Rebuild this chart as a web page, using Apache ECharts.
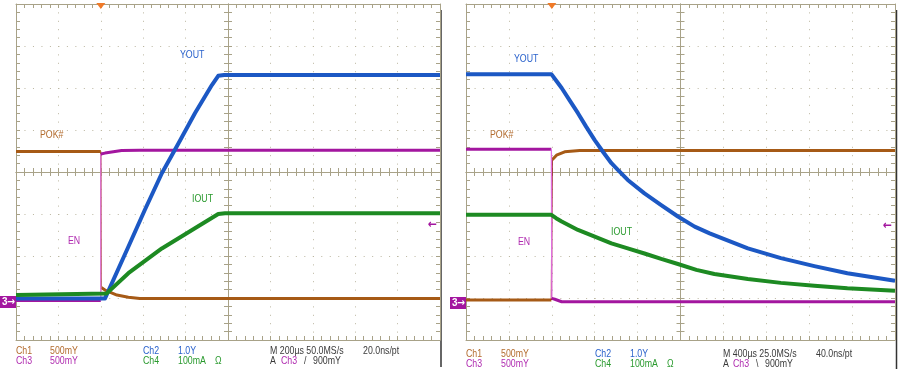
<!DOCTYPE html>
<html>
<head>
<meta charset="utf-8">
<script src="https://cdn.jsdelivr.net/npm/echarts@6.0.0/dist/echarts.min.js"></script>
<style>
  html, body { margin: 0; padding: 0; background: #fff; }
  #chart { width: 900px; height: 377px; }
</style>
</head>
<body>
<div id="chart"></div>
<script>
// scope traces, in screen divisions (x: -5..5, y: -4..4)
const triggerDiv = -3;

// power-up (left screen)
const pokRise = [[-5, 0.49], [-3.0, 0.49], [-2.99, -2.75], [-2.90, -2.81], [-2.62, -2.93], [-2.35, -2.98], [-2.08, -3.01], [5, -3.01]];
const enRise = [[-5, -3.06], [-3.0, -3.06], [-3.0, 0.43], [-2.90, 0.45], [-2.51, 0.51], [-2.08, 0.52], [5, 0.52]];
const youtRise = [[-5, -3.01], [-2.90, -3.01], [-2.35, -1.78], [-1.96, -0.90], [-1.56, -0.03], [-1.17, 0.68], [-0.78, 1.40], [-0.38, 2.07], [-0.23, 2.29], [-0.09, 2.31], [5, 2.31]];
const ioutRise = [[-5, -2.93], [-2.86, -2.89], [-2.35, -2.41], [-1.56, -1.82], [-0.78, -1.34], [-0.23, -1.00], [-0.07, -0.98], [5, -0.98]];

// power-down (right screen)
const pokFall = [[-5, -3.05], [-3.01, -3.05], [-2.99, 0.29], [-2.89, 0.40], [-2.70, 0.48], [-2.35, 0.51], [5, 0.51]];
const enFall = [[-5, 0.54], [-3.01, 0.54], [-3.0, -3.01], [-2.93, -3.03], [-2.77, -3.09], [5, -3.09]];
const youtFall = [[-5, 2.33], [-3.01, 2.33], [-2.90, 2.18], [-2.77, 2.00], [-2.58, 1.70], [-2.39, 1.40], [-2.20, 1.08], [-2.0, 0.76], [-1.80, 0.47], [-1.61, 0.21], [-1.42, 0.01], [-1.23, -0.19], [-0.84, -0.51], [-0.45, -0.79], [-0.06, -1.06], [0.33, -1.30], [0.68, -1.46], [1.02, -1.60], [1.57, -1.82], [2.34, -2.05], [3.12, -2.24], [3.89, -2.41], [5, -2.59]];
const ioutFall = [[-5, -1.02], [-3.01, -1.02], [-2.90, -1.10], [-2.77, -1.18], [-2.39, -1.38], [-2.0, -1.54], [-1.61, -1.70], [-1.23, -1.82], [-0.84, -1.94], [-0.45, -2.07], [-0.06, -2.19], [0.37, -2.33], [0.79, -2.43], [1.57, -2.55], [2.34, -2.64], [3.12, -2.71], [3.89, -2.77], [5, -2.83]];

const BROWN = '#a65a16', BLUE = '#1c58c4', PURPLE = '#a3169f', PINK = '#e070e0', GREEN = '#1d8a22';
const BROWN_T = '#b36c2e', BLUE_T = '#2a62cc', PURPLE_T = '#b02cb0', GREEN_T = '#2a9a2e', DARK = '#3a3a3a';
const GRID_LINE = '#a8a288', GRID_DOT = '#bbb6a0';
const FONT = '"Liberation Sans", Arial, sans-serif';
const ARROW_FONT = '"DejaVu Sans", sans-serif';

const panels = [
  { left: 16, width: 424, top: 4, height: 336 },
  { left: 466, width: 429, top: 4, height: 336 }
];

function tickSet(inside) {
  return {
    axisTick: { show: true, inside: inside, length: 4, lineStyle: { color: GRID_LINE } },
    minorTick: { show: true, splitNumber: 5, length: 4, lineStyle: { color: GRID_LINE } }
  };
}

function axesFor(dim, gi, p) {
  const isX = dim === 'x';
  const base = {
    gridIndex: gi, type: 'value',
    min: isX ? -5 : -4, max: isX ? 5 : 4, interval: 1,
    axisLabel: { show: false },
    splitLine: { show: false }
  };
  const line = { show: true, lineStyle: { color: GRID_LINE, width: 1 } };
  // dots every 1/5 division along the grid lines
  const step = isX ? p.height / 40 : p.width / 50;
  return [
    Object.assign({}, base, tickSet(true), {
      position: isX ? 'bottom' : 'left',
      axisLine: Object.assign({}, line, { onZero: false }),
      splitLine: { show: true, lineStyle: { color: GRID_DOT, width: 1, type: [1, step - 1] } }
    }),
    Object.assign({}, base, tickSet(true), {
      position: isX ? 'top' : 'right',
      axisLine: Object.assign({}, line, { onZero: false })
    }),
    // centre cross, ticks on both sides
    Object.assign({}, base, tickSet(true), {
      position: isX ? 'bottom' : 'left',
      axisLine: Object.assign({}, line, { onZero: true, onZeroAxisIndex: gi * 4 })
    }),
    Object.assign({}, base, tickSet(false), {
      position: isX ? 'bottom' : 'left',
      axisLine: Object.assign({}, line, { onZero: true, onZeroAxisIndex: gi * 4 })
    })
  ];
}

function trace(gi, data, color, width, edgeAt, edgeColor) {
  const common = {
    type: 'line', xAxisIndex: gi * 4, yAxisIndex: gi * 4,
    symbol: 'none', silent: true, animation: false,
    lineStyle: { color: color, width: width, join: 'round' }
  };
  if (edgeAt == null) return [Object.assign({}, common, { data: data })];
  return [
    Object.assign({}, common, { data: data.slice(0, edgeAt + 1) }),
    Object.assign({}, common, { data: data.slice(edgeAt, edgeAt + 2), lineStyle: { color: edgeColor, width: 1.3 } }),
    Object.assign({}, common, { data: data.slice(edgeAt + 1) })
  ];
}

function triggerMark(gi) {
  return {
    type: 'line', xAxisIndex: gi * 4, yAxisIndex: gi * 4, data: [], silent: true,
    markPoint: {
      symbol: 'triangle', symbolSize: [9, 6], symbolRotate: 180, symbolOffset: [0, 2],
      itemStyle: { color: '#f07a28' }, label: { show: false },
      data: [{ coord: [triggerDiv, 4] }]
    }
  };
}

// scope font is narrow: squeeze a regular face
function txt(x, y, s, color, size, sx, weight, family) {
  return {
    type: 'text', x: x, y: y, silent: true, scaleX: sx || 0.8,
    style: {
      text: s, fill: color, verticalAlign: 'middle',
      font: (weight || 'normal') + ' ' + (size || 11) + 'px ' + (family || FONT)
    }
  };
}

// channel labels on the screens
const labels = [
  [180, 54.5, 'YOUT', BLUE_T], [40, 134.5, 'POK#', BROWN_T], [192, 198.5, 'IOUT', GREEN_T], [68, 241, 'EN', PURPLE_T],
  [514, 58.5, 'YOUT', BLUE_T], [490, 135, 'POK#', BROWN_T], [611, 231.5, 'IOUT', GREEN_T], [518, 241.5, 'EN', PURPLE_T]
];

// readout below each screen
const readout = [
  [16, 350.5, 'Ch1', BROWN_T], [50, 350.5, '500mY', BROWN_T], [143, 350.5, 'Ch2', BLUE_T], [178, 350.5, '1.0Y', BLUE_T],
  [270, 350.5, 'M 200µs 50.0MS/s', DARK], [363, 350.5, '20.0ns/pt', DARK],
  [16, 360.5, 'Ch3', PURPLE_T], [50, 360.5, '500mY', PURPLE_T], [143, 360.5, 'Ch4', GREEN_T], [178, 360.5, '100mA', GREEN_T],
  [215, 360.5, 'Ω', GREEN_T], [270, 360.5, 'A', DARK], [281, 360.5, 'Ch3', PURPLE_T], [304, 360.5, '/', DARK], [313, 360.5, '900mY', DARK],
  [466, 353.5, 'Ch1', BROWN_T], [501, 353.5, '500mY', BROWN_T], [595, 353.5, 'Ch2', BLUE_T], [630, 353.5, '1.0Y', BLUE_T],
  [723, 353.5, 'M 400µs 25.0MS/s', DARK], [816, 353.5, '40.0ns/pt', DARK],
  [466, 364, 'Ch3', PURPLE_T], [501, 364, '500mY', PURPLE_T], [595, 364, 'Ch4', GREEN_T], [630, 364, '100mA', GREEN_T],
  [667, 364, 'Ω', GREEN_T], [723, 364, 'A', DARK], [733, 364, 'Ch3', PURPLE_T], [756, 364, '\\', DARK], [765, 364, '900mY', DARK]
];

const graphics = [];
labels.forEach(l => graphics.push(txt(l[0], l[1], l[2], l[3], 11)));
readout.forEach(l => graphics.push(txt(l[0], l[1], l[2], l[3], 11)));
// ch3 ground markers and trigger level arrows
[[0, 302], [450, 303]].forEach(m => {
  graphics.push({ type: 'rect', shape: { x: m[0], y: m[1] - 6, width: 16, height: 12 }, style: { fill: PURPLE }, silent: true });
  graphics.push(txt(m[0] + 2, m[1], '3', '#fff', 11, 0.9, 'bold'));
  graphics.push(txt(m[0] + 7, m[1], '→', '#fff', 11, 0.85, 'bold', ARROW_FONT));
});
graphics.push(txt(428, 225, '←', PURPLE, 12, 0.9, 'bold', ARROW_FONT));
graphics.push(txt(883, 226, '←', PURPLE, 12, 0.9, 'bold', ARROW_FONT));
// screenshot edges
graphics.push({ type: 'line', shape: { x1: 441, y1: 10, x2: 441, y2: 367 }, style: { stroke: '#333', lineWidth: 1.5 }, silent: true });
graphics.push({ type: 'line', shape: { x1: 896.5, y1: 10, x2: 896.5, y2: 369 }, style: { stroke: '#333', lineWidth: 1.5 }, silent: true });

const xAxis = [], yAxis = [];
panels.forEach((p, gi) => {
  xAxis.push(...axesFor('x', gi, p));
  yAxis.push(...axesFor('y', gi, p));
});

const series = [].concat(
  trace(0, pokRise, BROWN, 3, 1, BROWN),
  trace(0, enRise, PURPLE, 3, 1, PINK),
  trace(0, youtRise, BLUE, 4),
  trace(0, ioutRise, GREEN, 4),
  [triggerMark(0)],
  trace(1, pokFall, BROWN, 3, 1, '#a02828'),
  trace(1, enFall, PURPLE, 3, 1, PINK),
  trace(1, youtFall, BLUE, 4),
  trace(1, ioutFall, GREEN, 4),
  [triggerMark(1)]
);

const chart = echarts.init(document.getElementById('chart'), null, { renderer: 'canvas' });
chart.setOption({
  backgroundColor: '#fff',
  animation: false,
  grid: panels.map(p => ({ left: p.left, top: p.top, width: p.width, height: p.height, outerBoundsMode: 'none' })),
  xAxis: xAxis,
  yAxis: yAxis,
  series: series,
  graphic: graphics
});
</script>
</body>
</html>
